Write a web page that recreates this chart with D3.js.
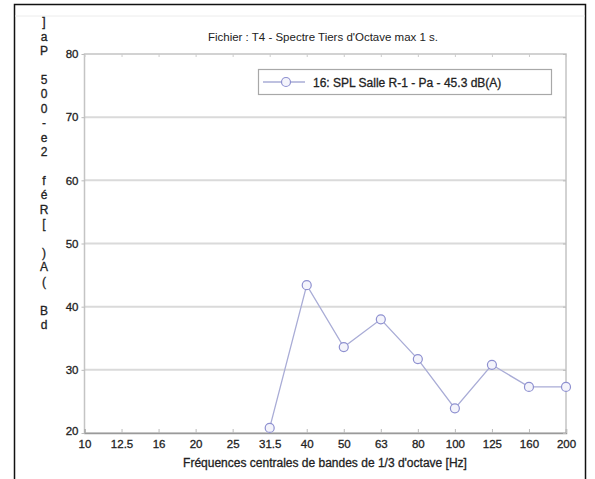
<!DOCTYPE html>
<html>
<head>
<meta charset="utf-8">
<script src="https://cdn.jsdelivr.net/npm/d3@7"></script>
<style>
  html, body { margin: 0; padding: 0; background: #fff; }
  svg { display: block; font-family: "Liberation Sans", Arial, sans-serif; }
  .heavy { stroke: #222; stroke-width: 0.3px; }
</style>
</head>
<body>
<svg id="chart" width="595" height="479"></svg>
<script>
// Third-octave band centre frequencies (Hz)
const bands = ["10", "12.5", "16", "20", "25", "31.5", "40", "50", "63", "80", "100", "125", "160", "200"];
// Bands that carry a measured level
const measuredBands = ["31.5", "40", "50", "63", "80", "100", "125", "160", "200"];
// Max SPL per band, dB(A)
const splLevels = [20.8, 43.4, 33.6, 38.0, 31.7, 23.9, 30.8, 27.3, 27.3];
// Y ticks
const yTicks = [20, 30, 40, 50, 60, 70, 80];

const title = "Fichier : T4 - Spectre Tiers d'Octave max 1 s.";
const xTitle = "Fréquences centrales de bandes de 1/3 d'octave [Hz]";
const yTitle = "dB (A) [Réf 2e-005 Pa]";
const legendText = "16: SPL Salle R-1 - Pa - 45.3 dB(A)";

const svg = d3.select("#chart");

const plot = { left: 84.5, right: 566, top: 54, bottom: 433 };

const x = d3.scalePoint().domain(bands).range([plot.left, plot.right]).padding(0);
const y = d3.scaleLinear().domain([20, 80]).range([plot.bottom, plot.top]);

// Outer frame
svg.append("rect")
  .attr("x", 14.5).attr("y", 4.5)
  .attr("width", 571).attr("height", 490)
  .attr("fill", "none").attr("stroke", "#111").attr("stroke-width", 1.5);
svg.append("line")
  .attr("x1", 15).attr("x2", 585).attr("y1", 16).attr("y2", 16)
  .attr("stroke", "#ececec").attr("stroke-width", 1);

// Horizontal grid
svg.append("g")
  .selectAll("line")
  .data(yTicks.filter(t => t > 20 && t < 80))
  .join("line")
  .attr("x1", plot.left).attr("x2", plot.right)
  .attr("y1", d => y(d)).attr("y2", d => y(d))
  .attr("stroke", "#dadada").attr("stroke-width", 2);

// Axes box
svg.append("rect")
  .attr("x", plot.left).attr("y", plot.top)
  .attr("width", plot.right - plot.left).attr("height", plot.bottom - plot.top)
  .attr("fill", "none").attr("stroke", "#c4c4c4").attr("stroke-width", 1.5);

// Bottom axis
const xAxis = svg.append("g")
  .attr("transform", `translate(0,${plot.bottom})`)
  .call(d3.axisBottom(x).tickSize(-4).tickPadding(7));
xAxis.select(".domain").attr("stroke", "#9a9a9a").attr("stroke-width", 1.5);
xAxis.selectAll(".tick line").attr("stroke", "#bbb");
xAxis.selectAll(".tick text")
  .attr("class", "heavy")
  .attr("font-size", 11.5).attr("fill", "#222")
  .attr("font-family", "'Liberation Sans', Arial, sans-serif");

// Top axis ticks
const xTop = svg.append("g")
  .attr("transform", `translate(0,${plot.top})`)
  .call(d3.axisTop(x).tickSize(-3).tickFormat(""));
xTop.select(".domain").remove();
xTop.selectAll(".tick line").attr("stroke", "#ccc");

// Left axis
const yAxis = svg.append("g")
  .attr("transform", `translate(${plot.left},0)`)
  .call(d3.axisLeft(y).tickValues(yTicks).tickSize(3).tickPadding(3));
yAxis.select(".domain").remove();
yAxis.selectAll(".tick line").attr("stroke", "#bbb");
yAxis.selectAll(".tick text")
  .attr("class", "heavy")
  .attr("font-size", 11.5).attr("fill", "#222")
  .attr("font-family", "'Liberation Sans', Arial, sans-serif");
yAxis.selectAll(".tick").filter(d => d === 20).select("text").attr("dy", "0.1em");

// Right axis ticks
const yRight = svg.append("g")
  .attr("transform", `translate(${plot.right},0)`)
  .call(d3.axisRight(y).tickValues(yTicks).tickSize(-3).tickFormat(""));
yRight.select(".domain").remove();
yRight.selectAll(".tick line").attr("stroke", "#bbb");

// Title
svg.append("text")
  .attr("x", 323).attr("y", 41)
  .attr("text-anchor", "middle")
  .attr("font-size", 11.5).attr("fill", "#222")
  .text(title);

// X title
svg.append("text")
  .attr("x", 325).attr("y", 467)
  .attr("text-anchor", "middle")
  .attr("font-size", 12).attr("fill", "#222")
  .attr("class", "heavy")
  .text(xTitle);

// Y title: upright characters stacked, read bottom to top
const yChars = Array.from(yTitle);
const charStep = 14.43;
svg.append("g")
  .selectAll("text")
  .data(yChars)
  .join("text")
  .attr("class", "heavy")
  .attr("x", 44)
  .attr("y", (d, i) => 325 - i * charStep)
  .attr("dy", "0.35em")
  .attr("text-anchor", "middle")
  .attr("font-size", 12).attr("fill", "#222")
  .text(d => d);

// Series line and markers
const pts = measuredBands.map((b, i) => ({ band: b, v: splLevels[i] }));
const line = d3.line().x(d => x(d.band)).y(d => y(d.v));
svg.append("path")
  .datum(pts)
  .attr("d", line)
  .attr("fill", "none").attr("stroke", "#a9acd6").attr("stroke-width", 1.3);
svg.append("g")
  .selectAll("circle")
  .data(pts)
  .join("circle")
  .attr("cx", d => x(d.band)).attr("cy", d => y(d.v))
  .attr("r", 4.5)
  .attr("fill", "#f4f4fb").attr("stroke", "#8e90d0").attr("stroke-width", 1.2);

// Legend
const lg = svg.append("g");
lg.append("rect")
  .attr("x", 258.5).attr("y", 69.5).attr("width", 293).attr("height", 25)
  .attr("fill", "#fff").attr("stroke", "#a8a8a8").attr("stroke-width", 1.2);
lg.append("line")
  .attr("x1", 263).attr("x2", 305).attr("y1", 82).attr("y2", 82)
  .attr("stroke", "#a9acd6").attr("stroke-width", 1.3);
lg.append("circle")
  .attr("cx", 286).attr("cy", 82).attr("r", 4.5)
  .attr("fill", "#f4f4fb").attr("stroke", "#8e90d0").attr("stroke-width", 1.2);
lg.append("text")
  .attr("class", "heavy")
  .attr("x", 313).attr("y", 86.5)
  .attr("font-size", 12).attr("fill", "#222")
  .text(legendText);
</script>
</body>
</html>
